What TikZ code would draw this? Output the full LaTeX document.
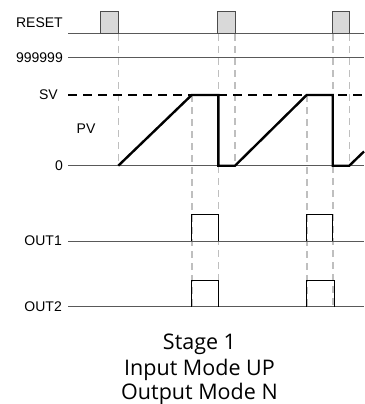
\documentclass[tikz,border=0pt]{standalone}
\usepackage{fontspec}
\setmainfont{Liberation Sans}
\newfontfamily\capfont{Open Sans}
\begin{document}
\begin{tikzpicture}[x=1pt,y=-1pt,
  baseln/.style={draw=black!65,line width=1pt},
  guide/.style={draw=black!25,line width=1.6pt,dash pattern=on 7pt off 5pt},
  sig/.style={draw=black,line width=2.4pt,line join=miter},
  svline/.style={draw=black,line width=1.8pt,dash pattern=on 9pt off 6pt},
  resetbox/.style={draw=black!70,fill=black!15,line width=1pt},
  pulse/.style={draw=black,line width=0.9pt},
  lbl/.style={font=\fontsize{14}{16}\selectfont,anchor=east,inner sep=0pt},
  captext/.style={font=\capfont\fontsize{21.5}{26}\selectfont,anchor=base,inner sep=0pt}]
\useasboundingbox (0,0) rectangle (364,404);
% guide lines
\coordinate (g1t) at (118.3,34); \coordinate (g1b) at (118.3,166);
\coordinate (g2t) at (191.7,95); \coordinate (g2b) at (191.7,307);
\coordinate (g3t) at (218.3,34); \coordinate (g3b) at (218.3,307);
\coordinate (g4t) at (235,34); \coordinate (g4b) at (235,166);
\coordinate (g5t) at (306.7,95); \coordinate (g5b) at (306.7,307);
\coordinate (g6t) at (332.7,34); \coordinate (g6b) at (332.7,307);
\coordinate (g7t) at (349.3,34); \coordinate (g7b) at (349.3,166);
\foreach \i in {1,...,7} \draw[guide] (g\i t) -- (g\i b);
% labels
\node[lbl] (lreset) at (63,23) {RESET};
\node[lbl] (l999) at (63,57.3) {999999};
\node[lbl] (lsv) at (58,95) {SV};
\node[lbl,anchor=center] (lpv) at (86,129) {PV};
\node[lbl] (lzero) at (63,165.7) {0};
\node[lbl] (lout1) at (62,241) {OUT1};
\node[lbl] (lout2) at (62,306.7) {OUT2};
% baselines
\coordinate (r0) at (68,34); \coordinate (r1) at (364,34);
\coordinate (n0) at (68,57.3); \coordinate (n1) at (364,57.3);
\coordinate (z0) at (68,165.7); \coordinate (z1) at (364,165.7);
\coordinate (o10) at (68,241); \coordinate (o11) at (364,241);
\coordinate (o20) at (68,306.7); \coordinate (o21) at (364,306.7);
\coordinate (s0) at (68,95); \coordinate (s1) at (364,95);
\draw[baseln] (r0) -- (r1);
\draw[baseln] (n0) -- (n1);
\draw[baseln] (z0) -- (z1);
\draw[baseln] (o10) -- (o11);
\draw[baseln] (o20) -- (o21);
\draw[svline] (s0) -- (s1);
% reset pulses
\draw[resetbox] (100.7,34) rectangle (118.3,11.3);
\draw[resetbox] (217.7,34) rectangle (235,11.3);
\draw[resetbox] (332.7,34) rectangle (349.3,11.3);
% PV signal
\draw[sig] (118.3,165.7) -- (191.7,95) -- (218.3,95) -- (218.3,165.7) -- (235,165.7)
  -- (306.7,95) -- (332.7,95) -- (332.7,165.7) -- (349.3,165.7) -- (364,151.5);
% outputs
\draw[pulse] (191.7,241) -- (191.7,214.3) -- (218.3,214.3) -- (218.3,241);
\draw[pulse] (306.7,241) -- (306.7,214.3) -- (332.7,214.3) -- (332.7,241);
\draw[pulse] (191.7,306.7) -- (191.7,280) -- (218.3,280) -- (218.3,306.7);
\draw[pulse] (306.7,306.7) -- (306.7,280) -- (334,280) -- (334,306.7);
% caption
\node[captext] (cap1) at (199.5,349.5) {Stage 1};
\node[captext] (cap2) at (199.5,375.5) {Input Mode UP};
\node[captext] (cap3) at (199.5,399) {Output Mode N};
\end{tikzpicture}
\end{document}
